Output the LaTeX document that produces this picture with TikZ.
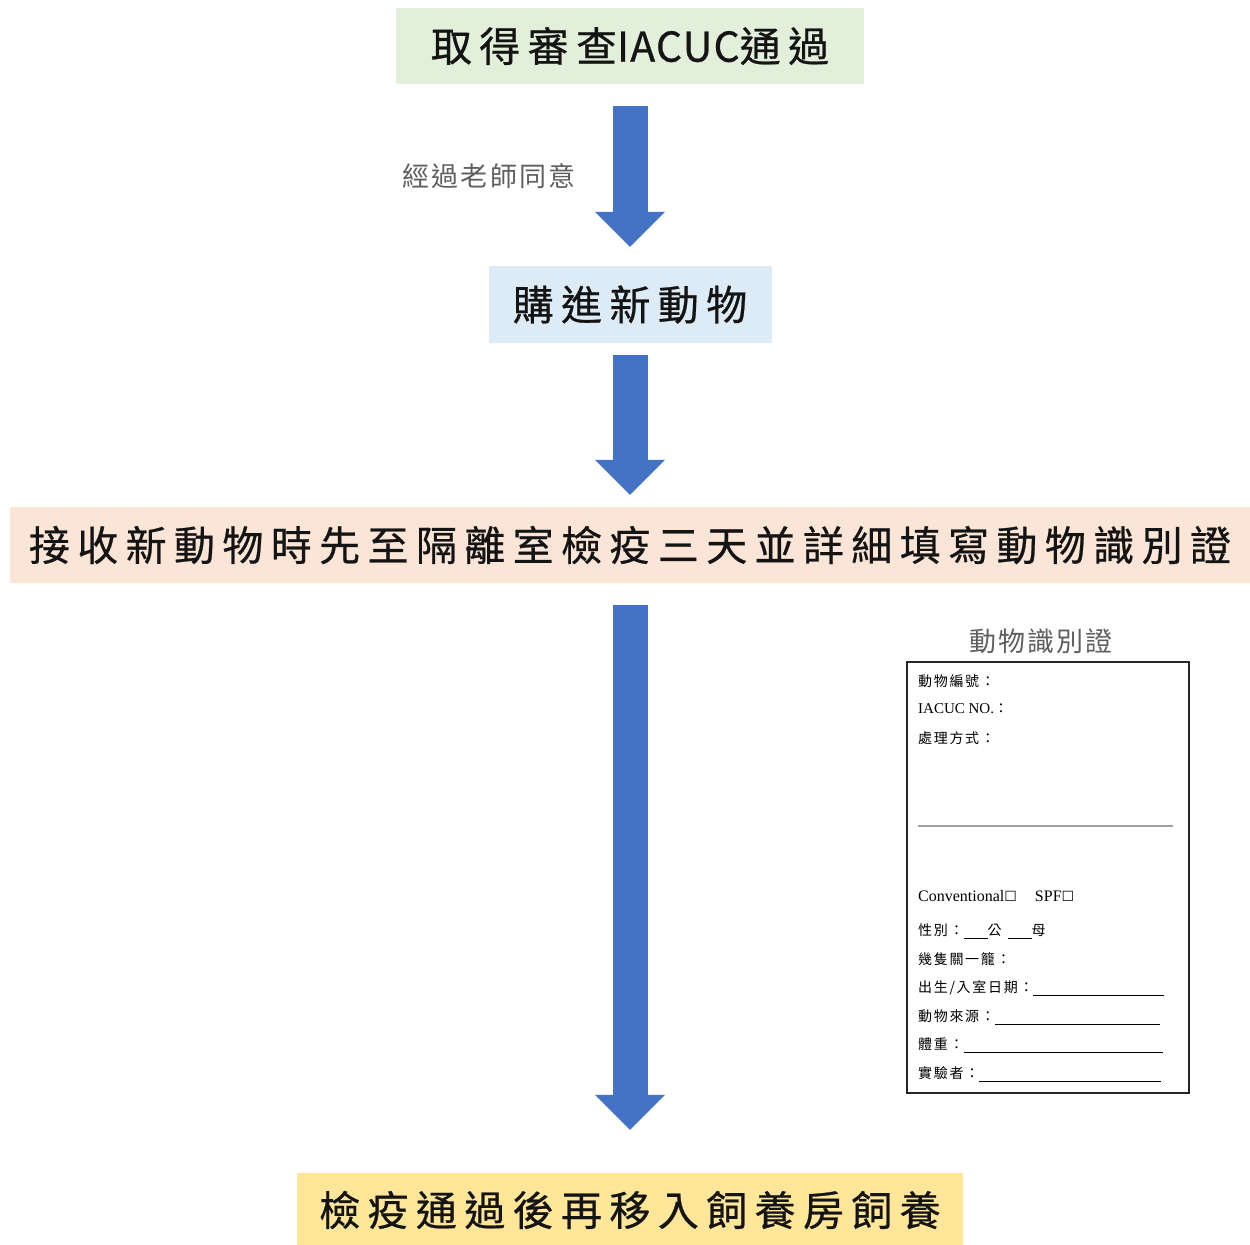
\documentclass[tikz,border=0pt]{standalone}
\usepackage{fontspec}
\setmainfont{Liberation Serif}
\newfontfamily\cjkbig[LetterSpace=18,FakeBold=0.6]{Noto Sans CJK TC}
\newfontfamily\cjkmid[LetterSpace=8]{Noto Sans CJK TC}
\newfontfamily\cjksmall[LetterSpace=12]{Noto Sans CJK TC}
\newfontfamily\cjkplain[FakeBold=0.6]{Noto Sans CJK TC}
\newfontfamily\symb{DejaVu Sans}
\usetikzlibrary{arrows.meta}
\definecolor{arrowblue}{HTML}{4472C4}
\definecolor{boxgreen}{HTML}{E2EFDA}
\definecolor{boxblue}{HTML}{DDEBF7}
\definecolor{boxpeach}{HTML}{FBE5D6}
\definecolor{boxyellow}{HTML}{FFE699}
\definecolor{labelgray}{HTML}{5F5F5F}
\definecolor{rulegray}{HTML}{A0A0A0}
\newcommand{\uline}[1]{\rule[-3bp]{#1}{0.7bp}}
\begin{document}
\begin{tikzpicture}[x=1bp,y=-1bp,
  flowbox/.style={inner sep=0pt, minimum height=76bp, text=black!92,
    font=\cjkbig\fontsize{41bp}{48bp}\selectfont},
  flowarrow/.style={line width=35bp, draw=arrowblue,
    -{Triangle[width=70bp,length=35bp,line width=0pt]}},
  sidelabel/.style={inner sep=0pt, text=labelgray,
    font=\cjkmid\fontsize{27bp}{32bp}\selectfont},
  cardline/.style={inner sep=0pt, anchor=west,
    font=\cjksmall\fontsize{14bp}{17bp}\selectfont},
  cardframe/.style={draw=black!85, line width=1.4bp, inner sep=0pt}
]
\useasboundingbox (0,0) rectangle (1250,1245);

% flow boxes
\node[flowbox, fill=boxgreen, minimum width=468bp] (b1) at (630,46)
  {取得審查{\cjkplain\fontsize{41bp}{48bp}\selectfont\addfontfeature{LetterSpace=3}IACUC}通過};
\node[flowbox, fill=boxblue, minimum width=283bp, minimum height=77bp] (b2) at (630,304.5)
  {購進新動物};
\node[flowbox, fill=boxpeach, minimum width=1239bp] (b3) at (630,545)
  {接收新動物時先至隔離室檢疫三天並詳細填寫動物識別證};
\node[flowbox, fill=boxyellow, minimum width=665bp, minimum height=74bp] (b4) at (630,1210)
  {檢疫通過後再移入飼養房飼養};

% arrows
\draw[flowarrow, shorten <=22bp, shorten >=19bp] (b1.south) -- (b2.north);
\draw[flowarrow, shorten <=12bp, shorten >=12bp] (b2.south) -- (b3.north);
\draw[flowarrow, shorten <=22bp, shorten >=43bp] (b3.south) -- (b4.north);

% side label
\node[sidelabel] (lab) at (489,176) {經過老師同意};

% identification card
\node[sidelabel] (ctitle) at (1041,641) {動物識別證};
\node[cardframe, minimum width=282bp, minimum height=431bp] (card) at (1048,877.5) {};

\node[cardline] (c1) at (918,681) {動物編號：};
\node[cardline] (c2) at (918,709) {{\fontsize{15bp}{18bp}\selectfont\rmfamily IACUC NO.}：};
\node[cardline] (c3) at (918,738) {處理方式：};
\draw[rulegray, line width=1.4bp] (918,826) -- (1173,826);
\node[cardline] (c4) at (918,896) {{\fontsize{16bp}{18bp}\selectfont\rmfamily Conventional{\symb\fontsize{14bp}{16bp}\selectfont ☐}\hspace{18bp}SPF{\symb\fontsize{14bp}{16bp}\selectfont ☐}}};
\node[cardline] (c5) at (918,931) {性別：\uline{24bp}公\hspace{6bp}\uline{24bp}母};
\node[cardline] (c6) at (918,959) {幾隻關一籠：};
\node[cardline] (c7) at (918,988) {出生/入室日期：\uline{131bp}};
\node[cardline] (c8) at (918,1017) {動物來源：\uline{165bp}};
\node[cardline] (c9) at (918,1045) {體重：\uline{199bp}};
\node[cardline] (c10) at (918,1074) {實驗者：\uline{182bp}};
\end{tikzpicture}
\end{document}
